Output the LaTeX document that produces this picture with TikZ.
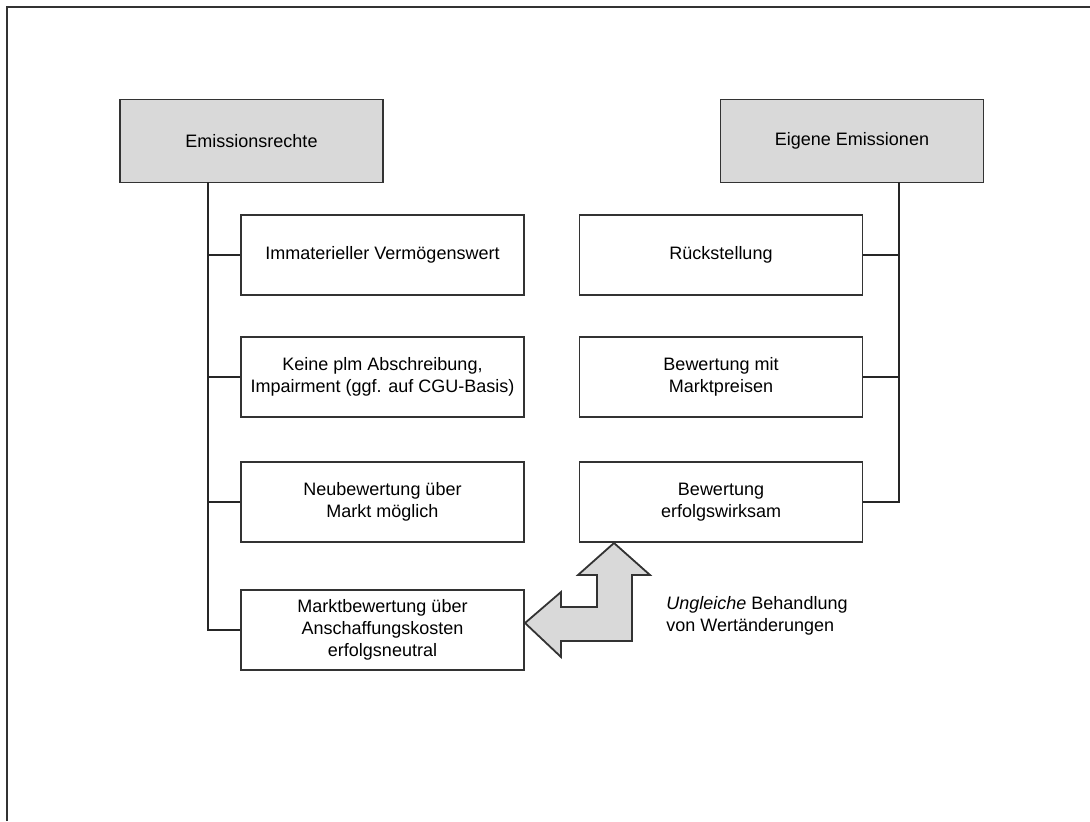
\documentclass[tikz,border=0pt]{standalone}
\usepackage{fontspec}
\setmainfont{Liberation Sans}
\usepackage{tikz}
\usetikzlibrary{calc,positioning}
\tikzset{
  frame/.style={line width=1pt,black!80},
  head/.style={draw=black!80,fill=black!15,line width=0.9pt,inner sep=0pt,
    minimum width=131.5pt,minimum height=41.5pt},
  item/.style={draw=black!80,fill=white,line width=0.9pt,inner sep=0pt,align=center,
    minimum width=141.5pt,minimum height=40pt},
  link/.style={line width=0.7pt,black!85},
  every node/.style={font=\fontsize{9}{11}\selectfont}
}
\begin{document}
\begin{tikzpicture}[x=0.5pt,y=-0.5pt]
  \useasboundingbox (0,0) rectangle (1090,821);
  \draw[frame] (7,821) -- (7,7) -- (1090,7);

  % Kopfzeilen
  \node[head] (rechte) at (251.5,141) {Emissionsrechte};
  \node[head] (eigene) at (852,141) {Eigene Emissionen};

  % linke Spalte
  \node[item] (l1) at (382.5,255) {Immaterieller Vermögenswert};
  \node[item] (l2) at (382.5,377) {Keine plm Abschreibung,\\Impairment (ggf. auf CGU-Basis)};
  \node[item] (l3) at (382.5,502) {Neubewertung über\\Markt möglich};
  \node[item] (l4) at (382.5,630) {Marktbewertung über\\Anschaffungskosten\\erfolgsneutral};

  % rechte Spalte
  \node[item] (r1) at (721,255) {Rückstellung};
  \node[item] (r2) at (721,377) {Bewertung mit\\Marktpreisen};
  \node[item] (r3) at (721,502) {Bewertung\\erfolgswirksam};

  \coordinate (ltop) at (208,182);
  \coordinate (rtop) at (899,182);
  \draw[link] (ltop) |- (l4.west);
  \foreach \i in {1,2,3} \draw[link] (ltop |- l\i.west) -- (l\i.west);
  \draw[link] (rtop) |- (r3.east);
  \foreach \i in {1,2} \draw[link] (rtop |- r\i.east) -- (r\i.east);

  % Doppelpfeil
  \draw[draw=black!80,fill=black!15,line width=0.9pt,line join=miter]
    (525,623) -- (561,592) -- (561,607) -- (597,607) -- (597,575) -- (578,575)
    -- (614,543) -- (650,575) -- (632,575) -- (632,641) -- (561,641)
    -- (561,657) -- cycle;
  \node[anchor=north west,align=left,inner sep=0pt] (note) at (666,596)
    {\textit{Ungleiche} Behandlung\\von Wertänderungen};
\end{tikzpicture}
\end{document}
